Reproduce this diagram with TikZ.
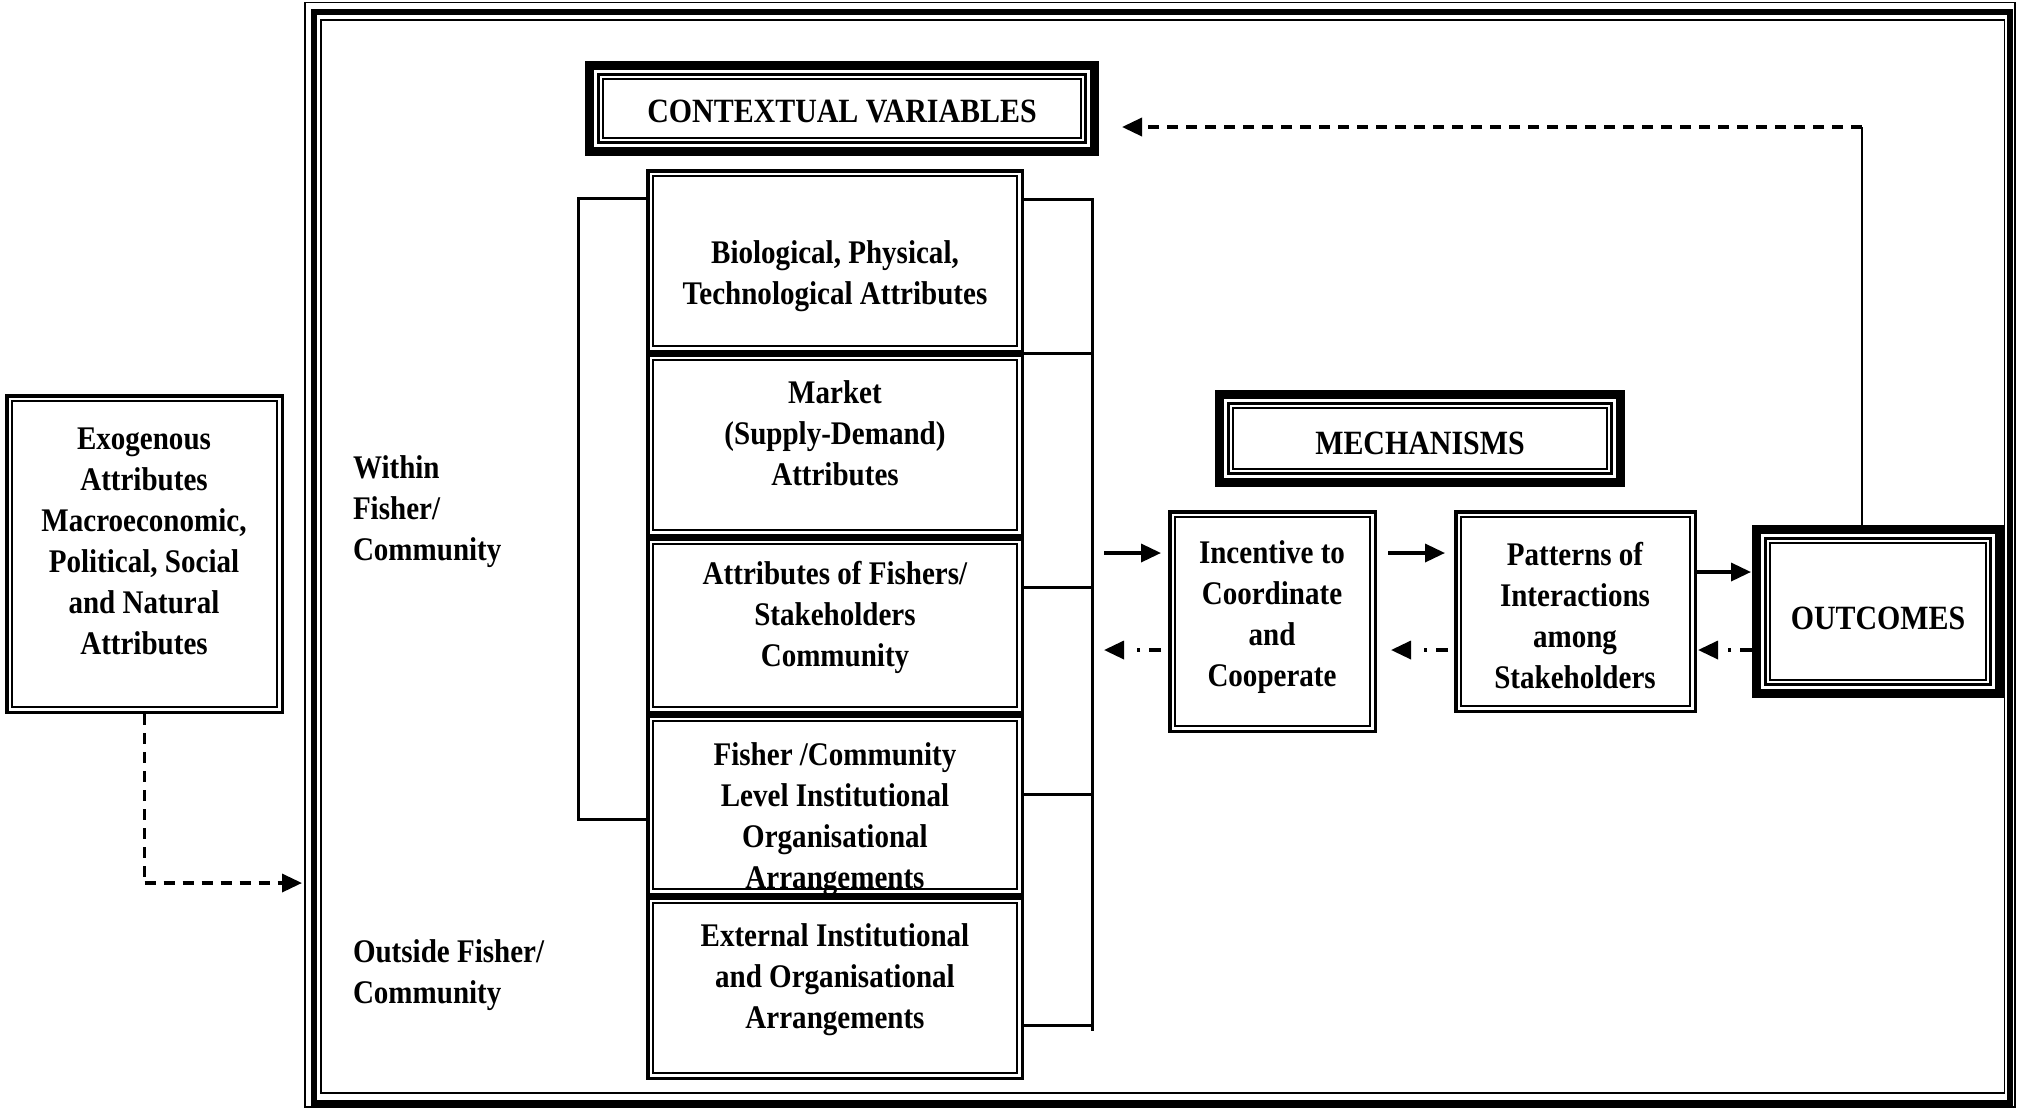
\documentclass[tikz,border=0pt]{standalone}
\usepackage{fontspec}
\setmainfont{Liberation Serif}[FakeStretch=0.88]
\usetikzlibrary{arrows.meta,calc}
\newcommand\insetrect[3]{\draw[line width=#3] ([shift={(#2,-#2)}]#1.north west) rectangle ([shift={(-#2,#2)}]#1.south east);}
\newcommand\heavyframe[1]{\insetrect{#1}{4.5pt}{9pt}\insetrect{#1}{13.5pt}{3pt}\insetrect{#1}{18pt}{1.5pt}}
\newcommand\dblframe[1]{\insetrect{#1}{1.75pt}{3.5pt}\insetrect{#1}{7pt}{2pt}}
\begin{document}
\begin{tikzpicture}[x=1pt,y=-1pt,
  every node/.style={inner sep=0pt, outer sep=0pt},
  txt/.style={font=\fontsize{33}{41}\selectfont\bfseries, align=center},
  head/.style={font=\fontsize{34}{41}\selectfont\bfseries, align=center},
  side/.style={font=\fontsize{33}{41}\selectfont\bfseries, align=left, anchor=west},
  tip/.style={-{Triangle[length=20pt,width=18pt]}},
  arr/.style={line width=3.5pt, tip},
  backarr/.style={line width=3.5pt, dash pattern=on 12pt off 9pt on 3pt off 30pt, tip},
  dsh/.style={line width=3.5pt, dash pattern=on 11pt off 8pt},
  brk/.style={line width=3pt},
]
\useasboundingbox (0,0) rectangle (2017,1109);
\fill[white] (0,0) rectangle (2017,1109);

% outer frame
\node[minimum width=1710pt, minimum height=1104.5pt] (frame) at (1160,554.75) {};
\draw[line width=1.8pt] (frame.north west) rectangle (frame.south east);
\draw[line width=6pt] (313.5,11.5) rectangle (2009.5,1102.5);
\draw[line width=1.8pt] (321,20) rectangle (2004.5,1093);

% boxes
\node[minimum width=279pt, minimum height=320pt] (exo) at (144.5,554) {};
\node[minimum width=514pt, minimum height=95pt] (cv) at (842,108.5) {};
\node[minimum width=378pt, minimum height=184pt] (b1) at (835,261) {};
\node[minimum width=378pt, minimum height=184pt] (b2) at (835,445) {};
\node[minimum width=378pt, minimum height=177pt] (b3) at (835,625.5) {};
\node[minimum width=378pt, minimum height=182pt] (b4) at (835,805) {};
\node[minimum width=378pt, minimum height=184pt] (b5) at (835,988) {};
\node[minimum width=410pt, minimum height=97pt] (mech) at (1420,438.5) {};
\node[minimum width=209pt, minimum height=223pt] (inc) at (1272.5,621.5) {};
\node[minimum width=243pt, minimum height=203pt] (pat) at (1575.5,611.5) {};
\node[minimum width=252pt, minimum height=173pt] (out) at (1878,611.5) {};

% texts
\node[txt] (exot) at (144,541) {Exogenous\\Attributes\\Macroeconomic,\\Political, Social\\and Natural\\Attributes};
\node[head] (cvt) at (842,111) {CONTEXTUAL VARIABLES};
\node[txt] (b1t) at (835,276) {Biological, Physical,\\Technological Attributes};
\node[txt] (b2t) at (835,433) {Market\\(Supply-Demand)\\Attributes};
\node[txt] (b3t) at (835,617) {Attributes of Fishers/\\Stakeholders\\Community};
\node[txt] (b4t) at (835,819) {Fisher /Community\\Level Institutional\\Organisational\\Arrangements};
\node[txt] (b5t) at (835,980) {External Institutional\\and Organisational\\Arrangements};
\node[head] (mecht) at (1420,443) {MECHANISMS};
\node[txt] (inct) at (1272,617) {Incentive to\\Coordinate\\and\\Cooperate};
\node[txt] (patt) at (1575,616) {Patterns of\\Interactions\\among\\Stakeholders};
\node[head] (outt) at (1878,618) {OUTCOMES};
\node[side] (within) at (353,512) {Within\\Fisher/\\Community};
\node[side] (outside) at (353,975) {Outside Fisher/\\Community};

% borders
\dblframe{exo}
\heavyframe{cv}
\dblframe{b1}\dblframe{b2}\dblframe{b3}\dblframe{b4}\dblframe{b5}
\heavyframe{mech}
\dblframe{inc}
\dblframe{pat}
\heavyframe{out}

% brackets
\coordinate (lbT) at (578,198);
\coordinate (lbB) at (578,819);
\draw[brk] (b1.west |- lbT) -- (lbT) -- (lbB) -- (b4.west |- lbB);
\coordinate (rbT) at (1092,199);
\coordinate (rbB) at (1092,1031);
\draw[brk] (b1.east |- rbT) -- (rbT) -- (rbB);
\draw[brk] (b1.south east) -- (b1.south east -| rbT);
\draw[brk] (b3.east |- 0,587) -- (rbT |- 0,587);
\draw[brk] (b4.east |- 0,794) -- (rbT |- 0,794);
\draw[brk] (b5.east |- 0,1025) -- (rbT |- 0,1025);

% mechanism arrows
\coordinate (fwd) at (1104,553);
\coordinate (bck) at (1104,650);
\draw[arr, shorten >=7pt] (fwd) -- (fwd -| inc.west);
\draw[backarr, shorten <=7pt] (bck -| inc.west) -- (bck);
\draw[arr, shorten <=11pt, shorten >=9pt] (inc.east |- fwd) -- (pat.west |- fwd);
\draw[backarr, shorten <=6pt, shorten >=14pt] (pat.west |- bck) -- (inc.east |- bck);
\draw[arr, shorten >=1pt] (pat.east |- 0,572) -- (out.west |- 0,572);
\draw[backarr, shorten >=1pt] (out.west |- bck) -- (pat.east |- bck);

% feedback
\coordinate (fb) at (1862,127);
\draw[line width=2.5pt] (fb |- out.north) -- (fb);
\draw[dsh, tip, shorten >=23pt] (fb) -- (fb -| cv.east);

% exogenous link
\coordinate (ex) at (144.5,883);
\draw[dsh] (exo.south) -- (ex);
\draw[dsh, tip, shorten >=3pt] (ex) -- (ex -| frame.west);
\end{tikzpicture}
\end{document}
